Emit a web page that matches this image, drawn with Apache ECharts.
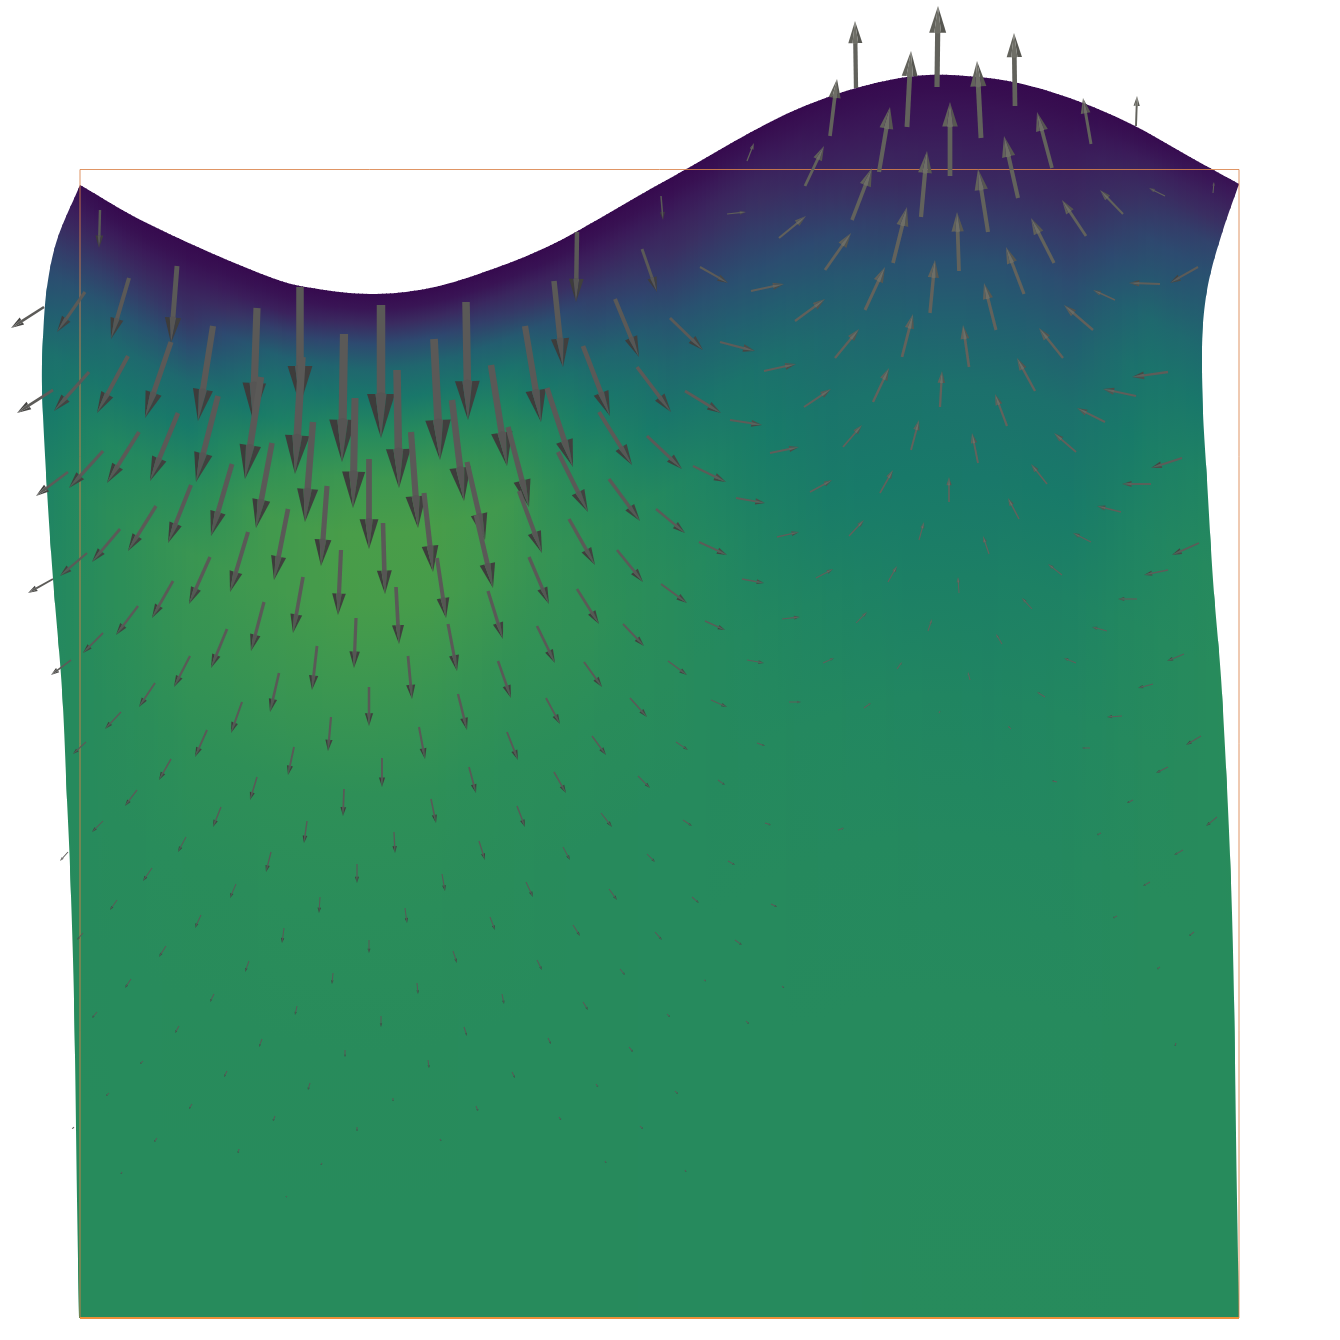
<!DOCTYPE html>
<html>
<head>
<meta charset="utf-8">
<title>Deformed surface with displacement arrows</title>
<script src="https://cdn.jsdelivr.net/npm/echarts@6/dist/echarts.min.js"></script>
<style>
  html, body { margin: 0; padding: 0; background: #fff; overflow: hidden; }
  #main { width: 1340px; height: 1340px; }
</style>
</head>
<body>
<div id="main"></div>
<script>
// outline of the deformed body
const topEdge = [[30,158],[80,185],[133,216],[200,248],[267,276],[300,286],[370,294],[430,288],[490,270],[547,247],[597,220],[640,195],[690,167],[755,130],[800,108],[853,89],[907,77],[950,75],[1013,82],[1075,100],[1133,125],[1190,157],[1239,184]];
const rightEdge = [[1239,184],[1223,230],[1209,280],[1203,323],[1202,363],[1203,413],[1207,480],[1213,580],[1222,693],[1232,913],[1237,1200],[1239,1318]];
const leftEdge = [[79,1318],[77,1200],[74,1000],[70,867],[67,800],[62,690],[53,579],[47,490],[42,387],[43,337],[47,287],[57,240],[80,185]];
const boxX = [80, 1239];
const boxY = [169.5, 1318];

// colour level of the field: one row per station, one value per depth below the surface
const stationX = [30,110,190,270,350,430,510,590,670,750,830,910,990,1070,1150,1245];
const depths = [0,15,30,50,75,105,140,185,240,310,400,500,620,760,920,1250];
const levels = [
  [5,8,12,18,24,30,36,48,55,62,67,70,72,74,75,75],
  [0,4,10,18,26,36,46,56,70,79,79,77,76,75,75,75],
  [0,3,8,15,22,32,46,60,76,87,85,81,77,76,75,75],
  [0,5,12,26,40,50,63,82,92,92,87,81,78,76,75,75],
  [0,6,18,30,44,57,74,89,98,97,88,81,78,76,75,75],
  [0,6,18,30,44,57,74,89,98,96,87,81,78,76,75,75],
  [0,5,15,24,38,52,66,80,90,88,83,79,77,75,75,75],
  [0,4,10,18,26,34,46,60,72,81,82,78,75,75,75,75],
  [0,3,8,14,20,26,34,44,56,70,76,76,74,74,74,74],
  [0,4,9,15,21,26,32,40,52,62,67,71,73,74,74,74],
  [0,3,6,10,15,22,29,37,45,54,61,67,71,73,74,74],
  [0,2,5,8,13,17,24,33,41,52,59,64,69,72,74,75],
  [0,2,5,8,12,17,24,33,40,50,58,64,68,71,74,75],
  [0,2,5,9,13,18,24,31,39,50,60,66,70,72,74,75],
  [0,5,11,17,23,29,35,45,54,63,68,72,74,75,75,75],
  [5,10,15,22,30,35,40,47,60,70,76,77,76,75,75,75]
];
const fieldColors = ['#360a4e','#3b1c5a','#3a2f62','#2d4a70','#225f70','#1c706c','#187a69','#228760','#2c8e58','#3f984f','#4b9e47'];

// arrows as [tailX, tailY, tipX, tipY]
const arrowsDownLeft = [
  [100,210,99,248],[44,307,11,328],[85,292,57,332],[129,278,111,339],[177,266,171,343],[300,287,300,405],
  [257,308,253,420],[213,326,198,421],[171,342,145,418],[128,356,97,413],[89,372,54,411],[53,390,17,413],
  [218,396,196,482],[261,377,245,479],[302,357,295,474],[178,413,150,481],[139,432,107,483],[103,451,69,488],
  [68,472,36,496],[272,443,256,528],[313,422,305,522],[191,485,168,543],[232,464,211,536],[156,506,128,551],
  [120,529,92,562],[87,553,60,576],[53,579,28,593],[248,532,230,592],[288,509,274,580],[210,557,189,604],
  [173,581,152,618],[138,606,116,635],[103,633,83,653],[71,660,51,675],[303,577,293,633],[264,602,251,651],
  [227,629,211,668],[190,656,174,687],[155,683,139,707],[121,712,105,729],[86,742,73,754],[317,646,312,690],
  [279,673,270,712],[242,702,231,733],[207,730,195,757],[171,759,159,780],[137,790,125,806],[294,747,288,775],
  [257,777,250,800],[327,486,321,566]
];
const arrowsDownCentre = [
  [344,334,342,462],[381,305,381,438],[466,302,468,420],[434,339,440,460],[397,370,399,488],[355,398,353,508],
  [577,232,576,302],[554,281,563,367],[525,326,541,422],[491,365,507,466],[452,400,464,501],[411,432,418,528],
  [369,459,369,549],[615,299,639,357],[642,249,657,292],[583,346,610,416],[547,388,573,467],[508,427,529,507],
  [467,462,485,540],[476,515,493,588],[424,493,433,572],[437,558,446,618],[383,523,385,594],[558,452,588,512],
  [519,491,542,553],[599,412,632,465],[637,367,671,412],[647,436,682,469],[609,479,640,521],[569,519,595,565],
  [341,550,338,615],[396,587,399,644],[356,618,354,668],[448,624,457,671],[488,591,503,639],[529,557,549,604],
  [577,589,599,624],[617,550,643,582],[537,626,555,663],[498,661,511,698],[408,656,412,699],[369,687,369,726],
  [331,717,328,751],[458,694,467,730],[584,662,602,687],[623,624,644,646],[630,698,647,717],[546,698,560,724],
  [507,732,518,760],[419,727,425,759],[382,758,382,787],[344,789,343,816],[469,767,476,793],[554,772,566,793],
  [592,736,606,755],[638,776,650,788],[601,813,612,827],[517,806,525,827],[431,799,436,823],[394,832,395,853],
  [479,841,485,860],[563,847,570,860],[647,854,655,862]
];
const arrowsLowerLeft = [
  [103,821,92,832],[68,852,60,861],[221,807,213,827],[186,837,178,852],[307,821,304,843],[271,852,266,872],
  [357,864,357,883],[152,868,143,881],[236,884,230,898],[320,897,319,913],[117,900,110,910],[201,915,195,928],
  [284,928,282,943],[369,940,369,953],[83,933,77,940],[166,946,159,957],[249,961,245,972],[333,973,332,984],
  [131,979,125,988],[214,994,210,1002],[297,1006,295,1015],[381,1016,381,1027],[97,1012,92,1018],[179,1026,175,1033],
  [262,1039,259,1047],[345,1050,345,1057],[143,1061,140,1064],[227,1071,224,1077],[310,1083,308,1090],[109,1093,106,1096],
  [192,1104,189,1109],[275,1116,273,1121],[393,1098,393,1101],[357,1127,357,1131],[74,1127,72,1129],[157,1138,154,1142],
  [239,1149,238,1153],[322,1163,321,1165],[122,1172,121,1174],[287,1196,286,1197]
];
const arrowsLowerMiddle = [
  [728,861,735,865],[442,874,445,891],[526,882,533,897],[609,889,617,900],[692,897,699,903],[771,904,777,907],
  [405,908,407,923],[490,917,495,930],[573,925,580,936],[655,932,662,940],[735,940,742,945],[453,951,457,963],
  [537,960,542,970],[620,969,625,975],[704,980,706,981],[782,986,784,988],[417,983,418,994],[502,994,504,1004],
  [583,1002,588,1010],[667,1014,670,1017],[746,1021,749,1024],[464,1027,467,1036],[548,1038,551,1044],[629,1047,633,1052],
  [428,1060,429,1068],[512,1072,515,1078],[596,1084,598,1087],[675,1091,678,1094],[476,1106,478,1111],[559,1117,561,1120],
  [640,1126,643,1129],[440,1139,441,1141],[605,1161,606,1163],[685,1170,686,1172]
];
const arrowsCentreRight = [
  [730,420,762,425],[693,466,726,482],[736,498,765,503],[656,509,685,533],[699,542,727,555],[742,579,764,583],
  [661,584,687,603],[705,621,725,630],[747,660,764,663],[668,661,687,675],[711,700,727,707],[770,453,799,447],
  [777,537,799,532],[810,492,832,480],[816,578,833,569],[782,619,800,617],[823,663,834,658],[789,702,801,702],
  [843,447,862,425],[849,536,864,520],[856,623,867,612],[864,708,871,703],[880,493,893,470],[888,582,897,566],
  [897,669,902,662],[911,450,919,420],[919,540,924,522],[928,631,932,619],[939,713,940,711],[676,742,688,750],
  [757,743,765,746],[718,780,725,785],[683,820,692,826],[765,823,771,825],[838,830,844,828]
];
const arrowsUpTop = [
  [747,161,754,143],[661,196,663,220],[727,214,746,212],[805,186,824,146],[779,238,806,216],[852,220,872,168],
  [825,270,851,233],[893,263,907,207],[921,217,927,151],[700,267,728,283],[751,291,784,284],[795,321,825,299],
  [865,310,885,267],[930,313,935,260],[670,318,703,350],[720,342,755,351],[764,371,796,364],[835,358,859,329],
  [902,357,913,314],[685,391,721,413],[804,407,831,389],[873,402,889,368],[856,88,855,21],[937,87,938,6],
  [907,127,911,51],[830,136,837,79],[1015,106,1014,33],[981,138,977,61],[1091,144,1083,98],[1136,126,1137,96],
  [950,176,950,102],[879,172,890,107],[1052,168,1037,112],[1018,198,1004,136],[988,232,978,169],[1123,214,1100,190],
  [1165,196,1149,188],[1213,193,1214,182],[1086,236,1062,200],[1054,263,1031,218],[1024,294,1006,247],[959,271,957,212],
  [1198,267,1170,283],[1160,284,1129,283],[1115,300,1093,290]
];
const arrowsRightSide = [
  [996,330,984,283],[1093,330,1064,305],[1063,358,1039,328],[969,367,963,325],[1035,391,1017,358],[940,407,942,371],
  [1007,426,995,394],[1168,372,1132,377],[1136,396,1103,389],[1105,422,1077,408],[1076,452,1054,433],[1047,484,1031,464],
  [1019,519,1008,498],[978,463,972,433],[949,502,949,477],[1182,458,1151,468],[1151,484,1122,484],[1121,512,1097,506],
  [1091,542,1073,533],[1062,575,1048,564],[989,554,983,536],[959,593,958,577],[1199,543,1172,555],[1168,570,1144,575],
  [1137,599,1118,599],[1032,609,1022,598],[1107,631,1092,627],[1002,644,996,634],[1076,663,1064,658],[970,680,968,672],
  [1184,654,1167,661],[1153,684,1138,688],[1045,697,1037,692],[1122,716,1107,717],[1011,729,1008,726],[1090,748,1082,748],
  [1201,736,1186,745],[1168,767,1156,773],[1057,782,1052,781],[1133,800,1127,803],[1217,817,1206,826],[1101,833,1097,835],
  [1183,850,1174,855],[1150,882,1143,886],[1117,916,1113,918],[1194,932,1189,936],[1160,967,1157,969],[1176,1043,1175,1046]
];

// tail order gives the overlap seen in the picture, lower arrows sit on top
const arrowRows = arrowsDownLeft.concat(arrowsDownCentre, arrowsLowerLeft, arrowsLowerMiddle, arrowsCentreRight, arrowsUpTop, arrowsRightSide)
  .sort((a, b) => a[1] - b[1]);

// smooth a list of outline points for drawing only (chord length hermite)
function smoothLine(pts) {
  const out = [];
  const dist = (a, b) => Math.hypot(b[0] - a[0], b[1] - a[1]);
  const tangent = (i, d) => {
    const a = pts[Math.max(i - 1, 0)], b = pts[Math.min(i + 1, pts.length - 1)];
    return (b[d] - a[d]) / dist(a, b);
  };
  for (let i = 0; i < pts.length - 1; i++) {
    const h = dist(pts[i], pts[i + 1]);
    for (let k = 0; k < 10; k++) {
      const t = k / 10, t2 = t * t, t3 = t2 * t;
      out.push([0, 1].map((d) =>
        (2 * t3 - 3 * t2 + 1) * pts[i][d] + (t3 - 2 * t2 + t) * h * tangent(i, d) +
        (3 * t2 - 2 * t3) * pts[i + 1][d] + (t3 - t2) * h * tangent(i + 1, d)));
    }
  }
  out.push(pts[pts.length - 1]);
  return out;
}

const topLine = smoothLine(topEdge);
const outline = topLine.filter((p) => p[0] >= 80).concat(smoothLine(rightEdge), smoothLine(leftEdge));

function surfaceAt(x) {
  for (let i = 0; i < topLine.length - 1; i++) {
    if (x <= topLine[i + 1][0]) {
      const t = (x - topLine[i][0]) / (topLine[i + 1][0] - topLine[i][0]);
      return topLine[i][1] + t * (topLine[i + 1][1] - topLine[i][1]);
    }
  }
  return topLine[topLine.length - 1][1];
}

function renderField(params, api) {
  const i = api.value(0);
  const children = [];
  const step = 4;
  for (let x = stationX[i]; x < stationX[i + 1]; x += step) {
    const t = (x + step / 2 - stationX[i]) / (stationX[i + 1] - stationX[i]);
    const s = surfaceAt(x + step / 2);
    const a = api.coord([x, s - 30]);
    const b = api.coord([x + step, s + depths[depths.length - 1]]);
    const y0 = api.coord([x, s])[1];
    const y1 = api.coord([x, s + depths[depths.length - 1]])[1];
    const stops = depths.map((d, j) => ({
      offset: d / depths[depths.length - 1],
      color: echarts.color.lerp((levels[i][j] + t * (levels[i + 1][j] - levels[i][j])) / 100, fieldColors)
    }));
    children.push({
      type: 'rect',
      shape: { x: a[0], y: a[1], width: b[0] - a[0] + 1, height: b[1] - a[1] },
      style: { fill: new echarts.graphic.LinearGradient(0, y0, 0, y1, stops, true) },
      silent: true
    });
  }
  return {
    type: 'group',
    children: children,
    clipPath: { type: 'polygon', shape: { points: outline.map((p) => api.coord(p)) } }
  };
}

function renderBox(params, api) {
  const a = api.coord([boxX[0], boxY[0]]);
  const b = api.coord([boxX[1], boxY[1]]);
  return {
    type: 'group',
    children: [
      { type: 'rect', shape: { x: a[0], y: a[1], width: b[0] - a[0], height: b[1] - a[1] }, style: { fill: 'none', stroke: '#d9824a', lineWidth: 1, opacity: 0.85 } },
      { type: 'line', shape: { x1: a[0], y1: b[1], x2: b[0], y2: b[1] }, style: { stroke: '#ee8f3a', lineWidth: 2 } }
    ]
  };
}

function renderArrow(params, api) {
  const tail = api.coord([api.value(0), api.value(1)]);
  const tip = api.coord([api.value(2), api.value(3)]);
  const dx = tip[0] - tail[0], dy = tip[1] - tail[1];
  const len = Math.sqrt(dx * dx + dy * dy) || 1;
  const ux = dx / len, uy = dy / len, nx = -uy, ny = ux;
  const headLen = len * 0.33, headW = Math.max(len * 0.105, 1), shaftW = Math.max(len * 0.032, 0.5);
  const bx = tip[0] - ux * headLen, by = tip[1] - uy * headLen;
  const up = (1 - uy) / 2; // downward arrows are darker in the picture
  const shade = (c0, c1) => echarts.color.lerp(up, [c0, c1]);
  const side = (k) => [bx + nx * headW * k, by + ny * headW * k];
  const back = [bx - ux * headLen * 0.04, by - uy * headLen * 0.04];
  return {
    type: 'group',
    silent: true,
    children: [
      { type: 'polygon', shape: { points: [[tail[0] + nx * shaftW, tail[1] + ny * shaftW], [tail[0] - nx * shaftW, tail[1] - ny * shaftW], [bx - nx * shaftW, by - ny * shaftW], [bx + nx * shaftW, by + ny * shaftW]] }, style: { fill: shade('#5a5957', '#62625c') } },
      { type: 'polygon', shape: { points: [tip, side(1), side(0.4)] }, style: { fill: shade('#3d3c3b', '#575751') } },
      { type: 'polygon', shape: { points: [tip, side(0.4), back, side(-0.4)] }, style: { fill: shade('#565554', '#6e6e66') } },
      { type: 'polygon', shape: { points: [tip, side(-0.4), side(-1)] }, style: { fill: shade('#403f3e', '#62625b') } }
    ]
  };
}

const chart = echarts.init(document.getElementById('main'), null, { renderer: 'canvas' });
chart.setOption({
  animation: false,
  tooltip: { show: false },
  grid: { left: 0, right: 0, top: 0, bottom: 0 },
  xAxis: { type: 'value', min: 0, max: 1340, show: false },
  yAxis: { type: 'value', min: 0, max: 1340, inverse: true, show: false },
  series: [
    { type: 'custom', coordinateSystem: 'cartesian2d', clip: false, silent: true, z: 1, renderItem: renderField, data: stationX.slice(0, -1).map((x, i) => [i]) },
    { type: 'custom', coordinateSystem: 'cartesian2d', clip: false, silent: true, z: 2, renderItem: renderBox, data: [[0]] },
    { type: 'custom', coordinateSystem: 'cartesian2d', clip: false, silent: true, z: 3, renderItem: renderArrow, data: arrowRows }
  ]
});
</script>
</body>
</html>
